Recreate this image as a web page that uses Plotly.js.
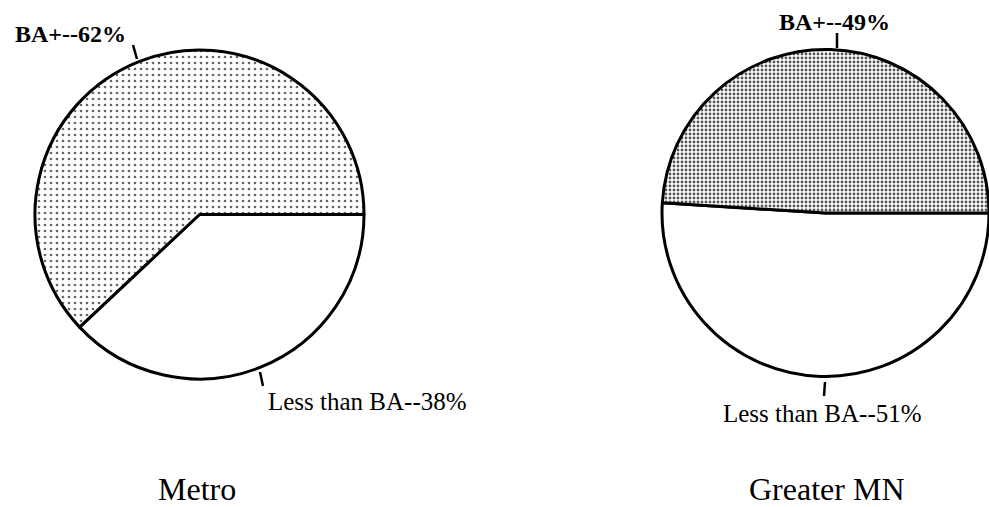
<!DOCTYPE html>
<html>
<head>
<meta charset="utf-8">
<script src="https://cdn.plot.ly/plotly-3.0.1.min.js"></script>
<style>html,body{margin:0;padding:0;background:#fff;}#chart{width:989px;height:507px;}</style>
</head>
<body>
<div id="chart"></div>
<script>
// Slice order: Plotly counterclockwise pies end the first slice at the rotation angle,
// so "Less than BA" is listed first and "BA+" follows counterclockwise from 3 o'clock.
const categories = ['Less than BA', 'BA+'];
const metroValues = [38, 62];
const greaterValues = [51, 49];
const regionTitles = ['Metro', 'Greater MN'];

const W = 989, H = 507;
const px = x => x / W;
const py = y => 1 - y / H;
const FAMILY = '"Liberation Serif", "Times New Roman", Times, serif';

function pieTrace(values, domainPx, patSize, solidity, fg) {
  return {
    type: 'pie',
    labels: categories,
    values: values,
    sort: false,
    direction: 'counterclockwise',
    rotation: 90,
    textinfo: 'none',
    hoverinfo: 'label+percent',
    showlegend: false,
    domain: {x: [px(domainPx[0]), px(domainPx[1])], y: [py(domainPx[3]), py(domainPx[2])]},
    marker: {
      colors: ['#ffffff', '#ffffff'],
      line: {color: '#000', width: 3},
      pattern: {shape: ['', '.'], fgcolor: fg, bgcolor: '#ffffff', size: patSize, solidity: solidity}
    }
  };
}

const data = [
  pieTrace(metroValues, [35, 364, 49, 380], 6, 0.16, '#666'),
  pieTrace(greaterValues, [662, 989, 48, 378], 4, 0.4, '#555')
];

function lbl(text, x, y, size, bold) {
  return {text: bold ? '<b>' + text + '</b>' : text, x: px(x), y: py(y), xref: 'paper', yref: 'paper',
          showarrow: false, xanchor: 'center', yanchor: 'middle',
          font: {family: FAMILY, size: size, color: '#000'}};
}
function tick(x0, y0, x1, y1) {
  return {type: 'line', xref: 'paper', yref: 'paper', x0: px(x0), y0: py(y0), x1: px(x1), y1: py(y1),
          line: {color: '#000', width: 2.5}};
}

const annotations = [
  lbl(categories[1] + '--' + metroValues[1] + '%', 70, 34, 24, true),
  lbl(categories[0] + '--' + metroValues[0] + '%', 367, 401, 25, false),
  lbl(categories[1] + '--' + greaterValues[1] + '%', 834, 22, 24, true),
  lbl(categories[0] + '--' + greaterValues[0] + '%', 822, 413, 25, false),
  lbl(regionTitles[0], 197, 489, 32, false),
  lbl(regionTitles[1], 826, 489, 32, false)
];

const shapes = [
  tick(133, 45, 137, 59),
  tick(260, 372, 263, 386),
  tick(837, 33, 837, 48),
  tick(825, 382, 824, 396)
];

const layout = {
  width: W, height: H,
  margin: {l: 0, r: 0, t: 0, b: 0},
  paper_bgcolor: '#fff', plot_bgcolor: '#fff',
  font: {family: FAMILY},
  annotations: annotations,
  shapes: shapes,
  showlegend: false
};

Plotly.newPlot('chart', data, layout, {staticPlot: true});
</script>
</body>
</html>
